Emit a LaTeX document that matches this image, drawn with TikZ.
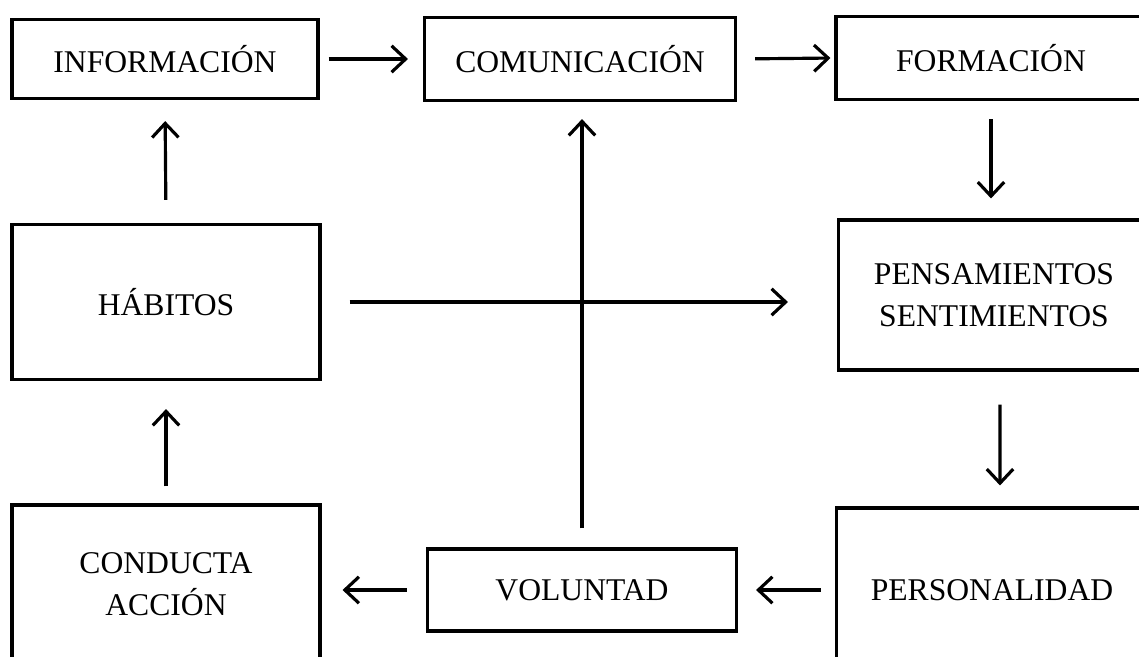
\documentclass[tikz,border=0pt]{standalone}
\usepackage{fontspec}
\setmainfont{Liberation Serif}
\usepackage{tikz}
\usetikzlibrary{arrows.meta}

\begin{document}
\begin{tikzpicture}[x=0.02cm, y=-0.02cm,
    caja/.style={draw, line width=1.8pt, align=center, inner sep=0pt,
        font=\fontsize{18}{24}\selectfont},
    flecha/.style={line width=1.8pt, -{Straight Barb[length=8pt, width=15pt]}}]

            \useasboundingbox (0, 0) rectangle (1139, 656);
            \clip (0, 0) rectangle (1139, 656);

            \node[caja, minimum width=6.12cm, minimum height=1.58cm] (info) at (165, 59) {INFORMACIÓN};
            \node[caja, minimum width=6.22cm, minimum height=1.66cm] (comu) at (580, 59) {COMUNICACIÓN};
            \node[caja, minimum width=6.2cm, minimum height=1.66cm] (form) at (991, 58) {FORMACIÓN};

            \node[caja, minimum width=6.16cm, minimum height=3.1cm] (habi) at (166, 302) {HÁBITOS};
            \node[caja, minimum width=6.22cm, minimum height=3.0cm] (pens) at (994, 295) {PENSAMIENTOS\\SENTIMIENTOS};

            \node[caja, minimum width=6.16cm, minimum height=3.16cm] (cond) at (166, 584) {CONDUCTA\\ACCIÓN};
            \node[caja, minimum width=6.18cm, minimum height=1.64cm] (volu) at (582, 590) {VOLUNTAD};
            \node[caja, minimum width=6.22cm, minimum height=3.28cm] (pers) at (992, 590) {PERSONALIDAD};

            \draw[flecha, shorten <=0.18cm, shorten >=0.3cm] (info.east) -- (comu.west);
            \draw[flecha, shorten <=0.36cm, shorten >=0.08cm] (comu.east) -- (form.west);
            \draw[flecha, shorten <=0.36cm, shorten >=0.4cm] (form.south) -- (pens.north -| form.south);
            \draw[flecha, shorten <=0.66cm, shorten >=0.42cm] ([xshift=0.12cm]pens.south) -- ([xshift=0.16cm]pers.north);
            \draw[flecha, shorten <=0.28cm, shorten >=0.36cm] (pers.west) -- (volu.east);
            \draw[flecha, shorten <=0.38cm, shorten >=0.42cm] (volu.west) -- (cond.east |- volu.west);
            \draw[flecha, shorten <=0.34cm, shorten >=0.56cm] (cond.north) -- (habi.south);
            \draw[flecha, shorten <=0.46cm, shorten >=0.42cm] (habi.north) -- (info.south);
            \draw[flecha, shorten <=0.56cm, shorten >=0.98cm] (habi.east) -- (pens.west |- habi.east);
            \draw[flecha, shorten <=0.38cm, shorten >=0.34cm] (volu.north) -- (comu.south -| volu.north);
        \end{tikzpicture}
\end{document}
